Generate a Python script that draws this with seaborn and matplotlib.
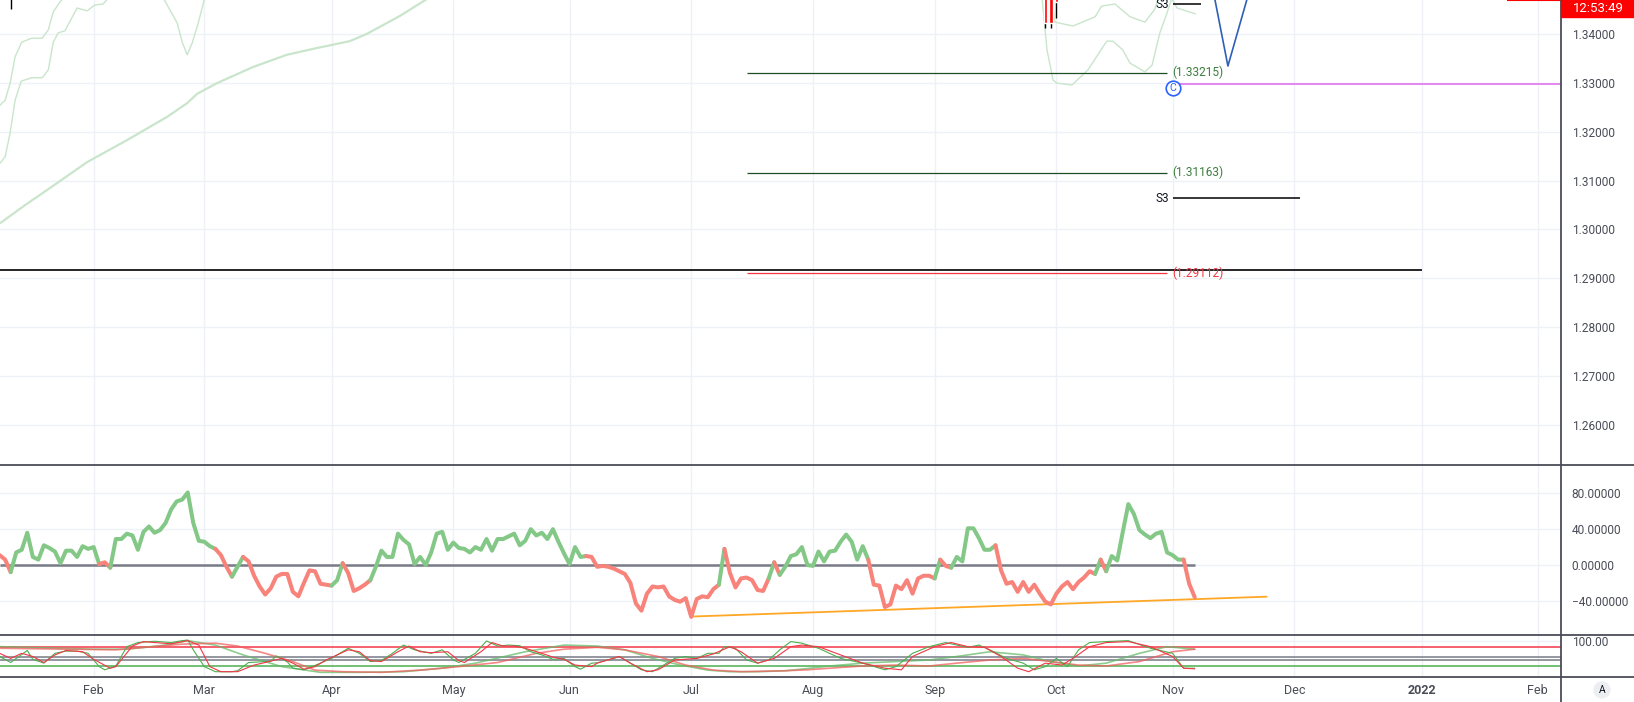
import numpy as np
import pandas as pd
import matplotlib
matplotlib.use('Agg')
import matplotlib.pyplot as plt
from matplotlib.lines import Line2D
from matplotlib.patches import Rectangle
import seaborn as sns

sns.set_style('white')
plt.rcParams['font.family'] = ['Roboto', 'DejaVu Sans']

W, H = 1634, 702

# x axis counts trading days, bar 0 = 2021-01-01
bdays = pd.bdate_range('2021-01-01', '2022-02-28')
x_range = (4.07, 286.2)

# ---------------- price panel ----------------
price_range = (1.25174, 1.34703)
price_ticks = [1.26, 1.27, 1.28, 1.29, 1.30, 1.31, 1.32, 1.33, 1.34]

# pale bollinger lines (bar, price)
bb_mid_bars = [4.1, 8.6, 13.1, 19.8, 27.0, 34.3, 37.9, 39.7, 43.3, 49.8, 55.9, 61.4, 67.3, 70.4, 76.4, 80.9, 82.7]
bb_mid = [1.3013, 1.3050, 1.3085, 1.3138, 1.3183, 1.3231, 1.3259, 1.3278, 1.3300, 1.3333, 1.3358, 1.3372,
          1.3386, 1.3401, 1.3438, 1.3470, 1.3481]
bb_a_bars = [4.1, 5.0, 5.9, 6.8, 8.0, 9.8, 11.7, 12.8, 13.7, 14.9, 16.0]
bb_a = [1.3255, 1.3265, 1.3300, 1.3354, 1.3384, 1.3392, 1.3392, 1.3409, 1.3446, 1.3466, 1.3481]
bb_b_bars = [4.1, 5.0, 5.9, 6.8, 7.9, 9.8, 11.7, 12.8, 13.7, 14.6, 15.8, 18.0, 19.8, 21.2, 22.7, 24.0]
bb_b = [1.3136, 1.3149, 1.3198, 1.3265, 1.3304, 1.3311, 1.3311, 1.3327, 1.3384, 1.3403, 1.3407, 1.3454,
        1.3448, 1.3460, 1.3462, 1.3479]
bb_dip_bars = [33.5, 36.1, 37.0, 37.9, 38.8, 39.9, 41.1]
bb_dip = [1.3476, 1.3423, 1.3384, 1.3358, 1.3382, 1.3423, 1.3476]
bb_p_bars = [194.2, 194.7, 198.0, 202.0, 203.2, 205.6, 208.3, 211.0, 212.7, 213.6]
bb_p = [1.3476, 1.3425, 1.3417, 1.3436, 1.3458, 1.3462, 1.3436, 1.3425, 1.3450, 1.3476]
bb_l_bars = [192.4, 193.3, 194.4, 195.1, 197.8, 200.7, 204.1, 205.2, 207.0, 208.3, 211.0, 212.3, 213.7, 215.0, 215.9]
bb_l = [1.3476, 1.3368, 1.3306, 1.3300, 1.3296, 1.3327, 1.3386, 1.3386, 1.3368, 1.3341, 1.3323, 1.3337,
        1.3403, 1.3444, 1.3476]
bb_r_bars = [215.7, 216.8, 220.1]
bb_r = [1.3476, 1.3454, 1.3442]

# candles poking in from the top
candle_bars = [193, 194, 195]
candle_open = [1.3520, 1.3520, 1.3520]
candle_close = [1.3423, 1.3423, 1.3467]
candle_low = [1.3413, 1.3413, 1.3433]
wick_bar, wick_low = 6, 1.3451

# drawn levels
fib_levels = [1.33215, 1.31163, 1.29112]
fib_labels = ['(1.33215)', '(1.31163)', '(1.29112)']
fib_colors = ['#1e4d20', '#1e4d20', '#f23645']
fib_text_colors = ['#3d7f3f', '#3d7f3f', '#f23645']
fib_span = (139, 215)
label_bar = 216
s3_levels = [1.34617, 1.30639]
s3_ends = [221.2, 239]
support_level, support_end = 1.29164, 261
magenta_level = 1.3298
v_bars = [223.6, 226.0, 229.5]
v_prices = [1.3474, 1.3335, 1.3474]
c_bar, c_price = 216, 1.3290
last_price, last_start = 1.34695, 276.5

# ---------------- oscillator panel ----------------
osc_range = (-78.2, 111.7)
osc_ticks = [80, 40, 0, -40]
osc_start = '2021-01-07'
osc_vals = [11, 6, -8, 14, 17, 36, 9, 6, 22, 19,
            15, 2, 16, 16, 9, 21, 18, 20, 1, 3,
            -3, 29, 29, 35, 33, 17, 37, 43, 36, 39,
            47, 62, 71, 73, 81, 47, 27, 26, 21, 18,
            11, -2, -13, -2, 9, 4, -12, -24, -33, -26,
            -13, -10, -10, -30, -35, -20, -6, -7, -21, -22,
            -23, -17, 2, -9, -29, -26, -22, -17, -2, 16,
            9, 9, 35, 28, 23, 1, 9, 0, 14, 35,
            37, 17, 25, 19, 18, 14, 20, 17, 29, 16,
            29, 29, 32, 35, 22, 27, 40, 33, 36, 29,
            40, 26, 13, 1, 20, 9, 10, 9, -2, -1,
            -2, -4, -7, -10, -20, -43, -51, -32, -24, -25,
            -24, -35, -39, -41, -37, -58, -38, -35, -36, -27,
            -22, 18, -9, -25, -15, -14, -17, -28, -29, -15,
            3, -11, -2, 10, 12, 20, 0, -1, 15, 4,
            15, 16, 26, 34, 26, 6, 21, 6, -22, -23,
            -47, -44, -23, -27, -17, -32, -15, -12, -12, -15,
            6, -1, -3, 9, 4, 41, 41, 30, 17, 17,
            22, -6, -21, -19, -30, -19, -30, -22, -32, -41,
            -44, -32, -24, -19, -27, -19, -14, -7, -10, 6,
            -7, 10, 5, 37, 68, 57, 39, 34, 30, 35,
            37, 14, 11, 6, 6, -21, -36]
osc_color_runs = [('g', 1), ('r', 2), ('g', 16), ('r', 2), ('g', 19), ('r', 3), ('g', 2), ('r', 16),
                  ('g', 2), ('r', 5), ('g', 39), ('r', 24), ('g', 1), ('r', 8), ('g', 1), ('r', 1),
                  ('g', 16), ('r', 12), ('g', 1), ('r', 2), ('g', 8), ('r', 18), ('g', 1), ('r', 1),
                  ('g', 14), ('r', 2)]
trend_bars = [129, 233]
trend_vals = [-57.6, -35.4]

# ---------------- stochastic panel ----------------
stoch_range = (-13.7, 118.8)
stoch_levels = [80, 50, 40, 20]
stoch_level_colors = ['#f23645', '#787b86', '#787b86', '#4caf50']
k_bars = [4, 6, 7, 9, 10, 12, 14, 16, 18, 20, 22, 23, 25, 27, 29, 32, 35, 37, 38, 39, 41, 43, 46, 47, 49,
          53, 54, 56, 57, 59, 62, 64, 67, 69, 71, 73, 75, 77, 79, 82, 84, 86, 87, 90, 92, 94, 96, 98, 100,
          102, 104, 106, 108, 109, 111, 112, 115, 116, 118, 120, 122, 124, 126, 128, 130, 132, 134, 135,
          137, 139, 141, 143, 145, 147, 149, 152, 156, 160, 164, 166, 169, 172, 175, 177, 179, 181, 183,
          186, 189, 191, 193, 195, 197, 199, 201, 204, 208, 212, 216, 218, 220]
k_vals = [51, 32, 45, 70, 42, 30, 61, 68, 68, 61, 19, 9, 21, 82, 95, 99, 95, 101, 103, 72, 19, 3, 3, 6, 32,
          36, 53, 34, 14, 9, 30, 45, 77, 61, 35, 38, 61, 87, 72, 61, 72, 40, 32, 61, 100, 84, 87, 85, 66,
          56, 42, 45, 19, 11, 30, 31, 45, 51, 30, 9, 3, 24, 45, 51, 45, 61, 61, 82,
          77, 40, 30, 40, 72, 98, 93, 77, 45, 30, 9, 19, 61, 82, 95, 87, 80, 87, 72,
          45, 30, 9, 19, 45, 19, 72, 95, 98, 101, 77, 61, 14, 14]
d_bars = [4, 6, 8, 10, 12, 14, 16, 19, 21, 24, 25, 28, 30, 32, 35, 38, 40, 42, 44, 47, 50, 52, 55, 57, 59,
          61, 63, 67, 69, 71, 73, 76, 78, 80, 82, 85, 87, 88, 91, 93, 95, 97, 99, 102, 104, 106, 108, 111,
          112, 116, 118, 121, 123, 126, 130, 133, 136, 138, 141, 144, 147, 149, 152, 156, 160, 164, 167,
          169, 173, 176, 179, 182, 185, 188, 190, 193, 196, 198, 201, 204, 208, 212, 216, 218, 220]
d_vals = [61, 45, 61, 51, 32, 56, 70, 66, 42, 14, 19, 84, 98, 95, 91, 101, 87, 19, 3, 3, 24, 32, 45, 30, 11,
          19, 40, 72, 66, 38, 35, 66, 84, 66, 63, 66, 38, 32, 66, 95, 84, 84, 77, 61, 49, 42, 24, 19,
          30, 51, 30, 3, 9, 40, 45, 59, 82, 66, 30, 45, 82, 87, 82, 56, 30, 14, 9,
          51, 82, 95, 82, 80, 51, 14, 3, 30, 24, 45, 82, 95, 98, 82, 51, 14, 12]
slow_g_bars = [4, 21, 27, 34, 38, 43, 48, 55, 62, 69, 77, 84, 90, 99, 106, 112, 117, 122, 127, 132, 136, 141,
               146, 150, 154, 160, 166, 172, 177, 183, 189, 194, 199, 204, 210, 215, 220]
slow_g_vals = [82, 74, 74, 87, 101, 87, 56, 19, 1, 1, 3, 14, 30, 66, 87, 84, 72, 45, 24, 8, 3, 3,
               6, 13, 21, 30, 35, 40, 51, 66, 56, 35, 21, 30, 61, 82, 74]
slow_r_bars = [4, 25, 37, 43, 47, 52, 57, 61, 66, 73, 80, 87, 94, 101, 106, 112, 117, 123, 128, 133, 138, 146,
               150, 154, 160, 166, 172, 177, 183, 189, 194, 199, 204, 210, 216, 220]
slow_r_vals = [77, 72, 90, 93, 84, 61, 35, 8, 3, 1, 8, 19, 32, 61, 74, 80, 72, 51, 24, 8, 3, 6,
               9, 14, 21, 24, 21, 30, 40, 45, 35, 24, 21, 35, 66, 74]

# ---------------- month ticks ----------------
pos = pd.Series(np.arange(len(bdays)), index=bdays)
firsts = pos.groupby([bdays.year, bdays.month]).first()
firsts = firsts[firsts > 10]
month_pos = firsts.values
month_lbl = ['2022' if m == 1 else pd.Timestamp(y, m, 1).strftime('%b') for (y, m) in firsts.index]

grid_c = '#eef1f5'
tick_c = '#4a4d57'
sep_c = '#4a4d57'

fig = plt.figure(figsize=(W / 100, H / 100), dpi=100)
axw = 1561 / W
ax_p = fig.add_axes([0, 1 - 465 / H, axw, 465 / H])
ax_o = fig.add_axes([0, 1 - 635 / H, axw, 170 / H])
ax_s = fig.add_axes([0, 1 - 677 / H, axw, 42 / H])

for ax in (ax_p, ax_o, ax_s):
    ax.set_xlim(*x_range)
    ax.set_xticks(month_pos)
    ax.grid(True, color=grid_c, lw=1)
    ax.set_axisbelow(True)
    for s in ax.spines.values():
        s.set_visible(False)
    ax.yaxis.tick_right()
    ax.tick_params(axis='y', length=0, pad=7.8, labelsize=8.6, labelcolor=tick_c)
    ax.tick_params(axis='x', length=0)
    ax.set_xlabel('')
    ax.set_ylabel('')

# ---- price panel ----
ax_p.set_ylim(*price_range)
ax_p.set_yticks(price_ticks)
ax_p.set_yticklabels([f'{v:.5f}' for v in price_ticks])
ax_p.set_xticklabels([])

bb_c = '#c9e5cb'
for bx, by, lw in [(bb_mid_bars, bb_mid, 1.6), (bb_a_bars, bb_a, 1), (bb_b_bars, bb_b, 1),
                   (bb_dip_bars, bb_dip, 1), (bb_p_bars, bb_p, 1), (bb_l_bars, bb_l, 1), (bb_r_bars, bb_r, 1)]:
    sns.lineplot(x=bx, y=by, ax=ax_p, color=bb_c, linewidth=lw, estimator=None, sort=False)

ax_p.vlines(candle_bars, candle_low, candle_open, color='black', lw=1, zorder=4)
ax_p.vlines([wick_bar], [wick_low], [1.352], color='black', lw=1, zorder=4)
ax_p.bar(candle_bars, np.array(candle_open) - np.array(candle_close), bottom=candle_close,
         width=0.6, color='#ff0000', zorder=5)

ax_p.hlines(support_level, 0, support_end, color='black', lw=1.2, zorder=3)
for lvl, lab, c, tc in zip(fib_levels, fib_labels, fib_colors, fib_text_colors):
    ax_p.hlines(lvl, fib_span[0], fib_span[1], color=c, lw=0.9, zorder=3)
    ax_p.text(label_bar, lvl, lab, color=tc, fontsize=8.6, va='center', ha='left', zorder=6)
for lvl, end in zip(s3_levels, s3_ends):
    ax_p.hlines(lvl, label_bar, end, color='black', lw=1.1, zorder=3)
    ax_p.text(label_bar - 0.6, lvl, 'S3', color='#131722', fontsize=8.6, va='center', ha='right')
ax_p.hlines(magenta_level, label_bar + 0.5, x_range[1] + 1, color='#e47cf0', lw=1.3, zorder=3)
sns.lineplot(x=v_bars, y=v_prices, ax=ax_p, color='#2f5fb8', linewidth=1.2, estimator=None, sort=False)
ax_p.plot([c_bar], [c_price], marker='o', ms=10.5, mfc='white', mec='#2962ff', mew=1.2, zorder=7)
ax_p.text(c_bar, c_price, 'C', color='#2962ff', fontsize=7.5, ha='center', va='center', zorder=8)
ax_p.hlines(last_price, last_start, x_range[1] + 1, color='#ff0000', lw=1.5, zorder=3)

# ---- oscillator panel ----
ax_o.set_ylim(*osc_range)
ax_o.set_yticks(osc_ticks)
ax_o.set_yticklabels([f'{v:.5f}'.replace('-', '\u2212') for v in osc_ticks])
ax_o.set_xticklabels([])

first_bar = bdays.get_loc(pd.Timestamp(osc_start))
ob = first_bar + np.arange(len(osc_vals))
ov = np.array(osc_vals, dtype=float)
flags = np.repeat([c for c, _ in osc_color_runs], [n for _, n in osc_color_runs])
ax_o.hlines(0, ob[0], ob[-1], color='#787b86', lw=1.8, zorder=2)
sns.lineplot(x=trend_bars, y=trend_vals, ax=ax_o, color='#ffa726', linewidth=1.3, estimator=None, sort=False)
colors = {'g': '#84c887', 'r': '#f8837a'}
start = 1
for k in range(2, len(ov) + 1):
    if k == len(ov) or flags[k] != flags[start]:
        sl = slice(start - 1, k)
        sns.lineplot(x=ob[sl], y=ov[sl], ax=ax_o, color=colors[flags[start]], linewidth=2.9,
                     estimator=None, sort=False, solid_capstyle='round', solid_joinstyle='round', zorder=4)
        start = k

# ---- stochastic panel ----
ax_s.set_ylim(*stoch_range)
ax_s.set_yticks([100])
ax_s.set_yticklabels(['100.00'])
ax_s.set_xticklabels(month_lbl, fontsize=9, color=tick_c)
for t, lab in zip(ax_s.get_xticklabels(), month_lbl):
    if lab == '2022':
        t.set_fontweight('bold')
ax_s.tick_params(axis='x', pad=5)
for lvl, c in zip(stoch_levels, stoch_level_colors):
    ax_s.axhline(lvl, color=c, lw=1.1, zorder=2)
sns.lineplot(x=slow_g_bars, y=slow_g_vals, ax=ax_s, color='#66bb6a', linewidth=1.2, alpha=0.75,
             estimator=None, sort=False)
sns.lineplot(x=slow_r_bars, y=slow_r_vals, ax=ax_s, color='#f0605d', linewidth=1.2, alpha=0.75,
             estimator=None, sort=False)
sns.lineplot(x=k_bars, y=k_vals, ax=ax_s, color='#4caf50', linewidth=0.8, estimator=None, sort=False)
sns.lineplot(x=d_bars, y=d_vals, ax=ax_s, color='#f23645', linewidth=0.8, estimator=None, sort=False)

# ---- panel frame ----
for yy in (465, 635, 677):
    fig.add_artist(Line2D([0, 1], [1 - yy / H] * 2, transform=fig.transFigure, color=sep_c, lw=1.3))
fig.add_artist(Line2D([axw, axw], [0, 1], transform=fig.transFigure, color=sep_c, lw=1.3))

fig.add_artist(Rectangle((axw, 1 - 17 / H), 1 - axw, 17 / H, transform=fig.transFigure,
                         color='#ff0000', zorder=10))
fig.text(1598 / W, 1 - 8 / H, '12:53:49', color='white', fontsize=9.5, ha='center', va='center', zorder=11)
fig.text(1602 / W, 1 - 690 / H, 'A', color='#131722', fontsize=7.5, ha='center', va='center',
         bbox=dict(boxstyle='circle,pad=0.35', fc='#eceef2', ec='none'))

fig.savefig('out.png', dpi=100, facecolor='white')
